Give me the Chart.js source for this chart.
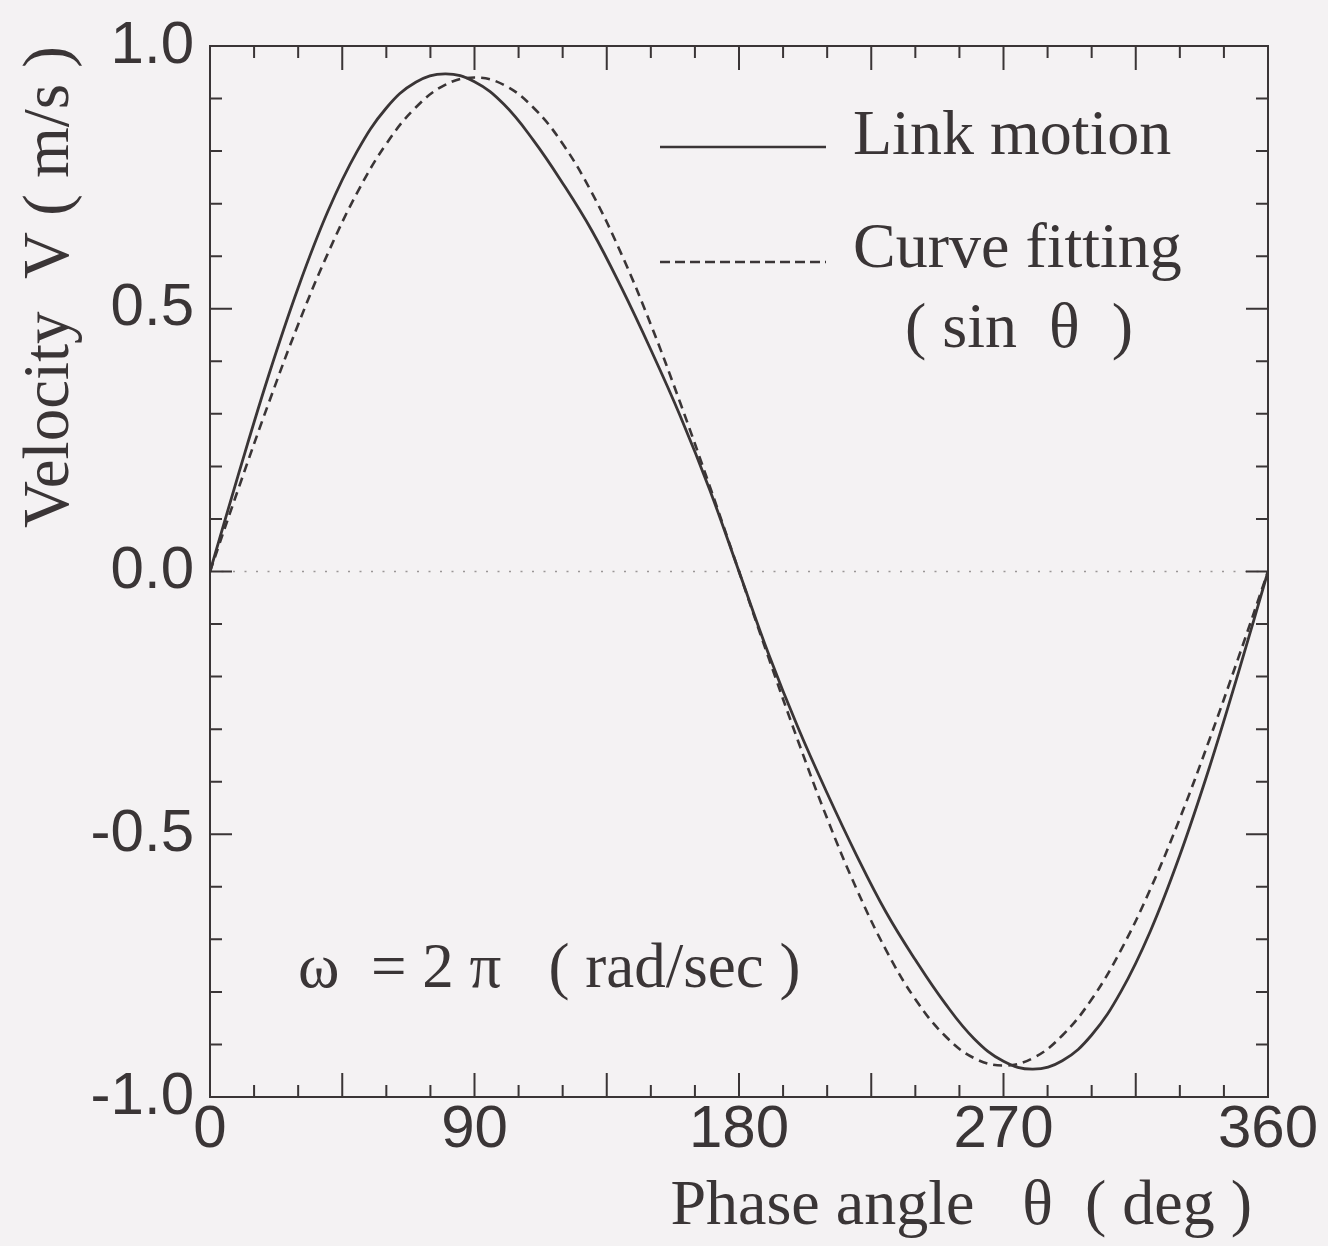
<!DOCTYPE html>
<html>
<head>
<meta charset="utf-8">
<script src="https://cdn.jsdelivr.net/npm/chart.js@4.4.1/dist/chart.umd.min.js"></script>
<style>
  html, body { margin: 0; padding: 0; background: #f4f2f3; }
  #wrap { width: 1328px; height: 1246px; }
</style>
</head>
<body>
<div id="wrap"><canvas id="velChart" width="1328" height="1246"></canvas></div>
<script>
// phase angle (deg)
const theta = [0, 10, 20, 30, 40, 50, 60, 70, 80, 90, 100, 110, 120, 130, 140, 150, 160, 170, 180,
               190, 200, 210, 220, 230, 240, 250, 260, 270, 280, 290, 300, 310, 320, 330, 340, 350, 360];
// velocity of the link mechanism (m/s)
const linkMotion = [0, 0.191, 0.374, 0.540, 0.684, 0.799, 0.882, 0.931, 0.947, 0.932, 0.889, 0.821, 0.739,
                    0.648, 0.540, 0.422, 0.296, 0.156, 0,
                    -0.156, -0.296, -0.422, -0.540, -0.648, -0.739, -0.821, -0.889, -0.932, -0.947,
                    -0.931, -0.882, -0.799, -0.684, -0.540, -0.374, -0.191, 0];
// fitted sine (m/s)
const curveFit = [0, 0.163, 0.321, 0.470, 0.604, 0.720, 0.814, 0.883, 0.926, 0.940, 0.926, 0.883, 0.814,
                  0.720, 0.604, 0.470, 0.321, 0.163, 0,
                  -0.163, -0.321, -0.470, -0.604, -0.720, -0.814, -0.883, -0.926, -0.940, -0.926,
                  -0.883, -0.814, -0.720, -0.604, -0.470, -0.321, -0.163, 0];
const xTicks = [0, 90, 180, 270, 360];
const yTicks = [-1.0, -0.5, 0.0, 0.5, 1.0];

const INK = '#3a3536';
const SERIF = "'Liberation Serif', 'Times New Roman', serif";
const SANS = "'Liberation Sans', Arial, sans-serif";

const toPts = (ys) => theta.map((t, i) => ({ x: t, y: ys[i] }));

// page background
const bgPlugin = {
    id: 'bg',
    beforeDraw(chart) {
        const c = chart.ctx;
        c.save();
        c.fillStyle = '#f4f2f3';
        c.fillRect(0, 0, chart.width, chart.height);
        c.restore();
    }
};

// frame, inward ticks on all four sides, dotted zero line
const framePlugin = {
    id: 'frame',
    beforeDatasetsDraw(chart) {
        const c = chart.ctx, a = chart.chartArea;
        const xs = chart.scales.x, ys = chart.scales.y;
        c.save();
        // zero line
        c.strokeStyle = '#9a9696';
        c.lineWidth = 1.6;
        c.setLineDash([2, 9.5]);
        const y0 = ys.getPixelForValue(0);
        c.beginPath(); c.moveTo(a.left, y0); c.lineTo(a.right, y0); c.stroke();
        c.setLineDash([]);

        c.strokeStyle = INK;
        c.lineWidth = 2;
        c.beginPath();
        for (let v = 15; v < 360; v += 15) {
            const px = xs.getPixelForValue(v);
            const len = v % 45 === 0 ? 24 : 12;
            c.moveTo(px, a.bottom); c.lineTo(px, a.bottom - len);
            c.moveTo(px, a.top); c.lineTo(px, a.top + len);
        }
        for (let k = -9; k <= 9; k++) {
            const py = ys.getPixelForValue(k / 10);
            const len = k % 5 === 0 ? 22 : 12;
            c.moveTo(a.left, py); c.lineTo(a.left + len, py);
            c.moveTo(a.right, py); c.lineTo(a.right - len, py);
        }
        c.stroke();
        c.strokeRect(a.left, a.top, a.right - a.left, a.bottom - a.top);
        c.restore();
    }
};

// legend inside the plot and the omega note
const notesPlugin = {
    id: 'notes',
    afterDatasetsDraw(chart) {
        const c = chart.ctx;
        const ds = chart.data.datasets;
        c.save();
        c.fillStyle = INK;
        c.font = '64px ' + SERIF;
        c.textBaseline = 'middle';
        c.textAlign = 'left';
        const rows = [{ d: ds[0], y: 147, ty: 137 }, { d: ds[1], y: 262, ty: 250 }];
        rows.forEach(r => {
            c.strokeStyle = r.d.borderColor;
            c.lineWidth = 2.4;
            c.setLineDash(r.d.borderDash ? [10, 5] : []);
            c.beginPath(); c.moveTo(660, r.y); c.lineTo(826, r.y); c.stroke();
            c.fillText(r.d.label, 853, r.ty);
        });
        c.setLineDash([]);
        c.fillText('( sin  \u03B8  )', 905, 330);
        c.font = '63px ' + SERIF;
        c.fillText('\u03C9  = 2 \u03C0   ( rad/sec )', 298, 970);
        c.restore();
    }
};

new Chart(document.getElementById('velChart'), {
    type: 'line',
    data: {
        datasets: [
            {
                label: 'Link motion',
                data: toPts(linkMotion),
                borderColor: INK,
                borderWidth: 2.8,
                pointRadius: 0,
                tension: 0.4,
                fill: false
            },
            {
                label: 'Curve fitting',
                data: toPts(curveFit),
                borderColor: INK,
                borderWidth: 2.6,
                borderDash: [9, 6],
                pointRadius: 0,
                tension: 0.4,
                fill: false
            }
        ]
    },
    options: {
        responsive: false,
        animation: false,
        events: [],
        layout: { padding: { left: 0, top: 41, right: 60, bottom: 0 } },
        plugins: { legend: { display: false }, tooltip: { enabled: false } },
        scales: {
            x: {
                type: 'linear', min: 0, max: 360,
                afterFit: s => { s.height = 149; },
                afterBuildTicks: s => { s.ticks = xTicks.map(v => ({ value: v })); },
                grid: { display: false, drawTicks: false },
                border: { display: false },
                ticks: { color: INK, padding: 3, font: { family: SANS, size: 60, lineHeight: 1 }, maxRotation: 0 },
                title: {
                    display: true, text: 'Phase angle   \u03B8  ( deg ) ', align: 'end',
                    color: INK, font: { family: SERIF, size: 64 }, padding: { top: 0, bottom: 0 }
                }
            },
            y: {
                type: 'linear', min: -1, max: 1,
                afterFit: s => { s.width = 210; },
                afterBuildTicks: s => { s.ticks = yTicks.map(v => ({ value: v })); },
                grid: { display: false, drawTicks: false },
                border: { display: false },
                ticks: { color: INK, padding: 16, font: { family: SANS, size: 60, lineHeight: 1 },
                         callback: v => Number(v).toFixed(1) },
                title: {
                    display: true, text: 'Velocity  V ( m/s )', align: 'end',
                    color: INK, font: { family: SERIF, size: 65 }, padding: { top: 12, bottom: 0 }
                }
            }
        }
    },
    plugins: [bgPlugin, framePlugin, notesPlugin]
});
</script>
</body>
</html>
